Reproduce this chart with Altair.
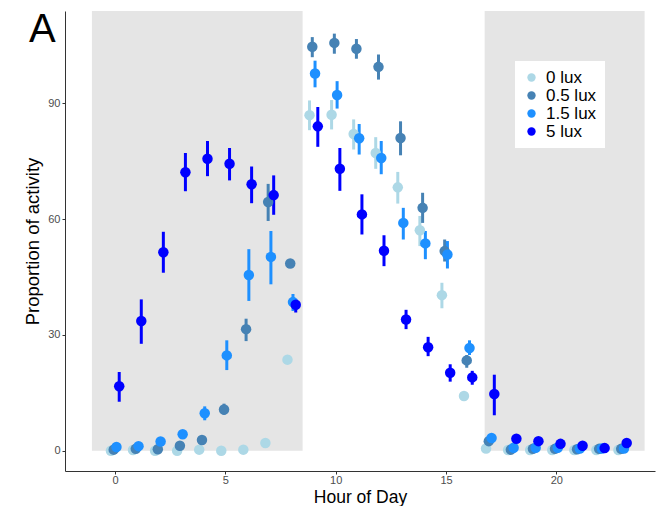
import altair as alt
import pandas as pd

hours = list(range(24))
series = ["0 lux", "0.5 lux", "1.5 lux", "5 lux"]
colors = ["#ADD8E6", "#4682B4", "#1E90FF", "#0000FF"]
dodge = [-0.1875, -0.0625, 0.0625, 0.1875]

mean_0 = [0, 0.2, 0, 0, 0.3, 0, 0.3, 2.0, 23.6, 86.9, 87.0, 82.0, 77.1, 68.2, 57.1, 40.3, 14.2, 0.6, 0.2, 0.2, 0.2, 0.2, 0.2, 0.2]
lo_0 = [0, 0.2, 0, 0, 0.3, 0, 0.3, 1.5, 22.5, 83.0, 83.2, 78.0, 73.0, 64.0, 53.0, 36.9, 13.5, 0.6, 0.2, 0.2, 0.2, 0.2, 0.2, 0.2]
hi_0 = [0, 0.2, 0, 0, 0.3, 0, 0.3, 2.5, 24.7, 90.7, 90.8, 85.8, 81.2, 72.2, 60.8, 43.5, 15.0, 0.6, 0.2, 0.2, 0.2, 0.2, 0.2, 0.2]

mean_05 = [0.3, 0.5, 0.4, 1.3, 2.8, 10.7, 31.5, 64.4, 48.5, 104.6, 105.6, 104.1, 99.4, 81.0, 62.9, 51.7, 23.4, 2.5, 0.3, 0.5, 0.5, 0.4, 0.5, 0.5]
lo_05 = [0.3, 0.5, 0.4, 1.3, 2.8, 9.3, 28.4, 59.5, 47.9, 101.9, 102.8, 101.5, 96.1, 76.5, 59.0, 49.0, 21.5, 2.5, 0.3, 0.5, 0.5, 0.4, 0.5, 0.5]
hi_05 = [0.3, 0.5, 0.4, 1.3, 2.8, 12.2, 34.2, 69.1, 49.1, 107.1, 108.0, 106.6, 102.6, 85.3, 66.8, 54.7, 24.8, 2.5, 0.3, 0.5, 0.5, 0.4, 0.5, 0.5]

mean_15 = [1.0, 1.2, 2.4, 4.3, 9.7, 24.7, 45.5, 50.2, 38.5, 97.7, 92.1, 80.9, 75.8, 59.0, 53.7, 50.8, 26.6, 3.3, 0.8, 0.8, 0.8, 0.6, 0.6, 0.6]
lo_15 = [1.0, 1.2, 2.4, 4.3, 7.9, 20.9, 38.8, 43.1, 36.2, 94.1, 88.6, 76.7, 71.6, 54.7, 49.6, 47.2, 24.8, 3.3, 0.8, 0.8, 0.8, 0.6, 0.6, 0.6]
hi_15 = [1.0, 1.2, 2.4, 4.3, 11.5, 28.6, 52.2, 56.9, 40.6, 101.0, 95.7, 84.6, 80.2, 62.9, 56.9, 54.3, 28.6, 3.3, 0.8, 0.8, 0.8, 0.6, 0.6, 0.6]

mean_5 = [16.7, 33.6, 51.4, 72.1, 75.6, 74.3, 69.0, 66.2, 37.8, 84.0, 73.0, 61.2, 51.8, 34.0, 26.8, 20.2, 19.0, 14.7, 3.1, 2.5, 1.8, 1.3, 0.7, 2.0]
lo_5 = [12.7, 27.7, 46.1, 67.2, 71.1, 70.0, 64.1, 61.1, 35.8, 78.7, 67.3, 56.0, 47.8, 31.5, 24.5, 17.9, 17.1, 9.2, 3.1, 2.5, 1.8, 1.3, 0.7, 2.0]
hi_5 = [20.4, 39.2, 56.7, 77.1, 80.2, 78.4, 73.6, 71.3, 39.3, 89.0, 78.4, 66.4, 55.8, 36.5, 29.5, 22.4, 20.7, 19.7, 3.1, 2.5, 1.8, 1.3, 0.7, 2.0]

dark_start = [-1.05, 16.75]
dark_end = [8.5, 24.0]

means = [mean_0, mean_05, mean_15, mean_5]
los = [lo_0, lo_05, lo_15, lo_5]
his = [hi_0, hi_05, hi_15, hi_5]

rows = []
for i, s in enumerate(series):
    for j, h in enumerate(hours):
        rows.append({"lux": s, "order": i, "hour": h + dodge[i],
                     "mean": means[i][j], "lo": los[i][j], "hi": his[i][j]})
df = pd.DataFrame(rows)
rect_df = pd.DataFrame({"start": dark_start, "end": dark_end, "base": [0, 0]})
label_df = pd.DataFrame({"label": ["A"]})

xscale = alt.Scale(domain=[-2.27, 24.47], nice=False, zero=False)
yscale = alt.Scale(domain=[-5.23, 113.86], nice=False, zero=False)
cscale = alt.Scale(domain=series, range=colors)

rects = alt.Chart(rect_df).mark_rect(color="#E5E5E5").encode(
    x=alt.X("start:Q", scale=xscale, title="Hour of Day",
            axis=alt.Axis(values=[0, 5, 10, 15, 20], grid=False, labelPadding=0,
                          titleBaseline="alphabetic", titleY=31.2, titleFontSize=17.5)),
    x2="end:Q",
    y=alt.Y("base:Q", scale=yscale, title="Proportion of activity",
            axis=alt.Axis(values=[0, 30, 60, 90], grid=False)),
    y2=alt.value(0),
)

bars = alt.Chart(df).mark_rule(strokeWidth=3).encode(
    x=alt.X("hour:Q", scale=xscale),
    y=alt.Y("lo:Q", scale=yscale),
    y2="hi:Q",
    color=alt.Color("lux:N", scale=cscale, legend=None),
    order="order:Q",
)

points = alt.Chart(df).mark_point(filled=True, opacity=1, size=110, shape="circle").encode(
    x=alt.X("hour:Q", scale=xscale),
    y=alt.Y("mean:Q", scale=yscale),
    color=alt.Color("lux:N", scale=cscale,
                    legend=alt.Legend(title=None, orient="none", legendX=450, legendY=50,
                                      fillColor="white", padding=8, labelFontSize=17,
                                      symbolSize=70, symbolType="circle", rowPadding=0,
                                      labelOffset=6, labelColor="black",
                                      labelFont="Liberation Sans")),
    order="order:Q",
)

letter = alt.Chart(label_df).mark_text(
    align="left", baseline="alphabetic", fontSize=40, font="Liberation Sans", color="black"
).encode(x=alt.value(-36), y=alt.value(31), text="label:N")

chart = alt.layer(rects, bars, points, letter).resolve_legend(color="independent").properties(
    width=590, height=460,
    padding={"left": 65, "top": 11, "right": 4, "bottom": 35},
    autosize="none",
).configure_view(stroke=None).configure_axis(
    domainColor="#333333", domainWidth=1, tickColor="#333333", tickSize=3,
    labelColor="#4D4D4D", labelFontSize=11, labelFont="Liberation Sans",
    titleFont="Liberation Sans", titleFontSize=18.5, titleFontWeight="normal",
    titleColor="black", labelPadding=2,
).configure_axisY(titlePadding=5)

chart.save("out.html", embed_options={"renderer": "svg", "actions": False})
